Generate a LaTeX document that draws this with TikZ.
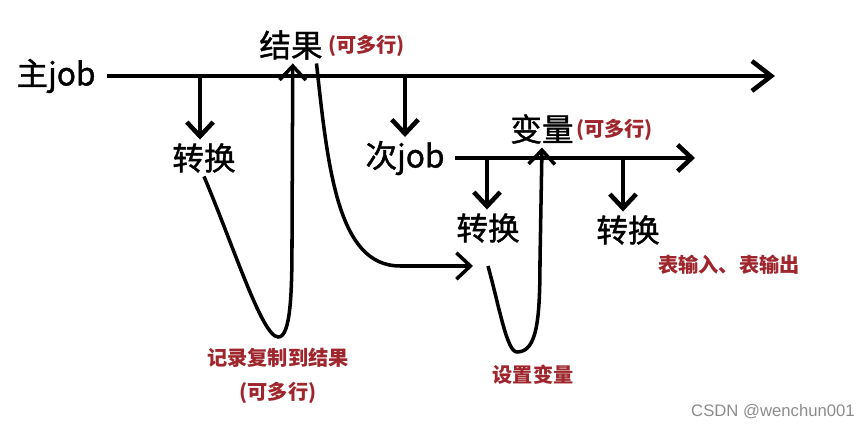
\documentclass[tikz,border=0pt]{standalone}
\usepackage{fontspec}
\setmainfont{Noto Sans CJK SC}
\newfontfamily\bigfont[FakeBold=1.2]{Noto Sans CJK SC}
\newfontfamily\creditfont{Liberation Sans}
\usetikzlibrary{positioning, arrows.meta}

\definecolor{notered}{RGB}{158,38,44}
\definecolor{creditgray}{RGB}{140,140,140}

\begin{document}
\begin{tikzpicture}[x=0.02cm, y=-0.02cm, >={Straight Barb[length=8pt, width=15pt]},
    big/.style = {inner sep=2pt, font=\bigfont\fontsize{18}{20}\selectfont},
    note/.style = {inner sep=1pt, text=notered, font=\bfseries\fontsize{11.5}{13}\selectfont},
    flow/.style = {line width=2.6pt},
    link/.style = {line width=2pt}]
            \useasboundingbox (0,0) rectangle (865,428);

            \node[big] (main) at (56,76) {主job};
            \node[big] (res) at (291,45) {结果};
            \node[note, anchor=west] (resnote) at (326,46) {(可多行)};
            \node[big] (t1) at (204,158) {转换};
            \node[big] (sub) at (405,158) {次job};
            \node[big] (var) at (542,129) {变量};
            \node[note, anchor=west] (varnote) at (574,130) {(可多行)};
            \node[big] (t2) at (488,228) {转换};
            \node[big] (t3) at (628,230) {转换};
            \node[note] (tio) at (729,265) {表输入、表输出};
            \node[note] (copy) at (278,358) {记录复制到结果};
            \node[note] (copymore) at (278,393) {(可多行)};
            \node[note] (set) at (533,375) {设置变量};
            \node[inner sep=0pt, text=creditgray, font=\creditfont\fontsize{9.5}{11}\selectfont] (credit) at (773,412) {CSDN @wenchun001};

            \coordinate (mainstart) at (107,76);
            \coordinate (mainend) at (775,76);
            \coordinate (substart) at (455,158);
            \coordinate (subend) at (695,158);
            \coordinate (b1) at (200,76);
            \coordinate (b2) at (405,76);
            \coordinate (b3) at (487,158);
            \coordinate (b4) at (623,158);
            \coordinate (t2in) at (473,266);
            \coordinate (t2out) at (488,266);

            \draw[flow, ->, >={Straight Barb[length=11pt, width=17pt]}] (mainstart) -- (mainend);
            \draw[flow, ->] (substart) -- (subend);
            \draw[flow, ->] (b1) -- (b1 |- t1.north);
            \draw[flow, ->] (b2) -- (b2 |- sub.north);
            \draw[flow, ->] (b3) -- (b3 |- t2.north);
            \draw[flow, ->] (b4) -- (b4 |- t3.north);

            \draw[link, ->] (t1.south) .. controls (235,250) and (262,336) .. (278,337)
              .. controls (291,338) and (292,290) .. (292,240) -- ([xshift=1pt]res.south);
            \draw[link, ->] ([xshift=-0.2cm]res.south east) .. controls (328,170) and (338,266) .. (400,266) -- (t2in);
            \draw[link, ->] (t2out) .. controls (500,310) and (507,352) .. (517,352)
              .. controls (537,352) and (540,320) .. (540,260) -- (var.south);
          \end{tikzpicture}
\end{document}
